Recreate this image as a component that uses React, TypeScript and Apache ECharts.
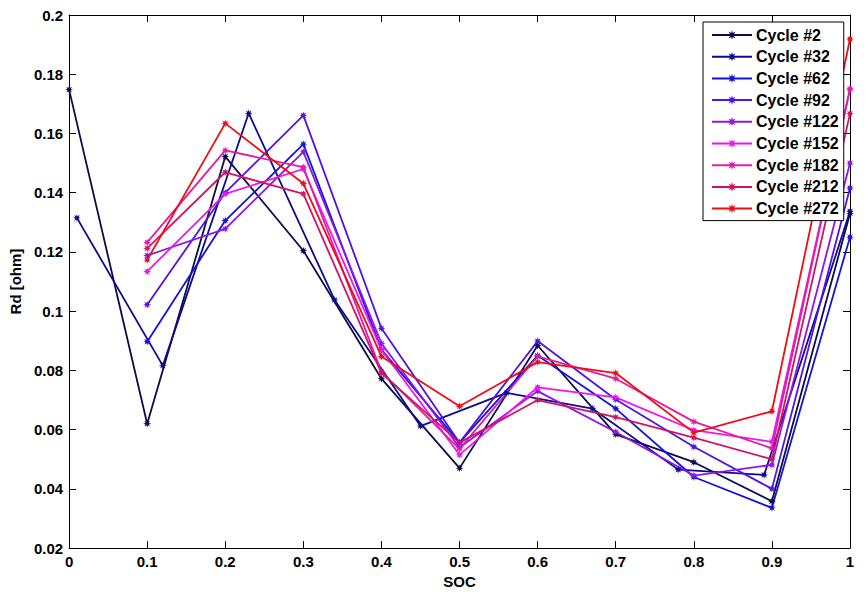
import React, { useEffect, useRef } from "react";
import * as echarts from "echarts";

const seriesNames = [
  "Cycle #2",
  "Cycle #32",
  "Cycle #62",
  "Cycle #92",
  "Cycle #122",
  "Cycle #152",
  "Cycle #182",
  "Cycle #212",
  "Cycle #272",
];
const seriesColors = [
  "#0c0c4c",
  "#0c0c8c",
  "#1414d8",
  "#5014e0",
  "#9014e8",
  "#f014f0",
  "#e01ca8",
  "#d01462",
  "#f00c14",
];

const xCycle2 = [0, 0.1, 0.2, 0.3, 0.4, 0.5, 0.6, 0.7, 0.8, 0.9, 1.0];
const yCycle2 = [0.1748, 0.062, 0.1522, 0.1204, 0.0772, 0.047, 0.0884, 0.0584, 0.049, 0.0358, 0.133];

const xCycle32 = [0.01, 0.12, 0.23, 0.34, 0.45, 0.56, 0.67, 0.78, 0.89, 1.0];
const yCycle32 = [0.1315, 0.0816, 0.1668, 0.1038, 0.0612, 0.0724, 0.0671, 0.0465, 0.0447, 0.1337];

const xSoc = [0.1, 0.2, 0.3, 0.4, 0.5, 0.6, 0.7, 0.8, 0.9, 1.0];
const yCycle62 = [0.0897, 0.1306, 0.1564, 0.087, 0.0556, 0.085, 0.0671, 0.044, 0.0336, 0.125];
const yCycle92 = [0.1022, 0.14, 0.1661, 0.0942, 0.0556, 0.0899, 0.0702, 0.0542, 0.04, 0.1416];
const yCycle122 = [0.1188, 0.1278, 0.1538, 0.0891, 0.054, 0.073, 0.0592, 0.0445, 0.0481, 0.15];
const yCycle152 = [0.1134, 0.1396, 0.148, 0.0869, 0.0515, 0.0743, 0.0709, 0.0598, 0.0559, 0.175];
const yCycle182 = [0.1232, 0.1543, 0.1486, 0.0795, 0.0535, 0.0847, 0.0772, 0.0627, 0.0537, 0.175];
const yCycle212 = [0.1212, 0.1469, 0.1396, 0.0791, 0.0556, 0.07, 0.0642, 0.0573, 0.05, 0.1667];
const yCycle272 = [0.1173, 0.1634, 0.1431, 0.0847, 0.0679, 0.0828, 0.0791, 0.059, 0.0662, 0.1919];

const seriesX = [xCycle2, xCycle32, xSoc, xSoc, xSoc, xSoc, xSoc, xSoc, xSoc];
const seriesY = [yCycle2, yCycle32, yCycle62, yCycle92, yCycle122, yCycle152, yCycle182, yCycle212, yCycle272];

function asteriskPath(): string {
  const pts: string[] = [];
  const n = 8;
  for (let i = 0; i < n * 2; i++) {
    const r = i % 2 === 0 ? 10 : 4.5;
    const a = (Math.PI * i) / n - Math.PI / 2;
    const px = (10 + r * Math.cos(a)).toFixed(2);
    const py = (10 + r * Math.sin(a)).toFixed(2);
    pts.push((i === 0 ? "M" : "L") + px + " " + py);
  }
  return "path://" + pts.join(" ") + " Z";
}

const FONT = "'Liberation Sans', Arial, sans-serif";

export default function App() {
  const ref = useRef<HTMLDivElement>(null);
  useEffect(() => {
    if (!ref.current) return;
    const chart = echarts.init(ref.current, undefined, { renderer: "svg" });
    const sym = asteriskPath();
    const fmt = (v: number) => String(+Number(v).toFixed(2));
    const tickCommon = { inside: true, length: 7, lineStyle: { color: "#000", width: 1 } };
    const axisLineCommon = { show: true, onZero: false, lineStyle: { color: "#000", width: 1 } };
    chart.setOption({
      animation: false,
      backgroundColor: "#fff",
      grid: { left: 69, right: 16, top: 15, bottom: 42 },
      xAxis: [
        {
          type: "value",
          min: 0,
          max: 1,
          interval: 0.1,
          name: "SOC",
          nameLocation: "middle",
          nameGap: 24,
          nameTextStyle: { color: "#000", fontSize: 15, fontWeight: "bold", fontFamily: FONT },
          axisLine: axisLineCommon,
          axisTick: tickCommon,
          splitLine: { show: false },
          axisLabel: { color: "#000", fontSize: 15, fontWeight: "bold", fontFamily: FONT, margin: 6, formatter: fmt },
        },
        {
          type: "value",
          position: "top",
          min: 0,
          max: 1,
          interval: 0.1,
          axisLine: axisLineCommon,
          axisTick: tickCommon,
          splitLine: { show: false },
          axisLabel: { show: false },
        },
      ],
      yAxis: [
        {
          type: "value",
          min: 0.02,
          max: 0.2,
          interval: 0.02,
          name: "Rd [ohm]",
          nameLocation: "middle",
          nameGap: 44,
          nameTextStyle: { color: "#000", fontSize: 15, fontWeight: "bold", fontFamily: FONT },
          axisLine: axisLineCommon,
          axisTick: tickCommon,
          splitLine: { show: false },
          axisLabel: { color: "#000", fontSize: 15, fontWeight: "bold", fontFamily: FONT, margin: 6, formatter: fmt },
        },
        {
          type: "value",
          position: "right",
          min: 0.02,
          max: 0.2,
          interval: 0.02,
          axisLine: axisLineCommon,
          axisTick: tickCommon,
          splitLine: { show: false },
          axisLabel: { show: false },
        },
      ],
      legend: {
        orient: "vertical",
        left: 703,
        top: 22,
        padding: [5, 5, 4, 8],
        itemGap: 5.7,
        itemWidth: 40,
        itemHeight: 12,
        backgroundColor: "#fff",
        borderColor: "#000",
        borderWidth: 1,
        borderRadius: 0,
        textStyle: { color: "#000", fontSize: 16, fontWeight: "bold", fontFamily: FONT, lineHeight: 16, padding: [0, 0, 0, -1] },
        data: seriesNames,
      },
      series: seriesNames.map((name, i) => ({
        name,
        type: "line",
        xAxisIndex: 0,
        yAxisIndex: 0,
        data: seriesX[i].map((x, j) => [x, seriesY[i][j]]),
        symbol: sym,
        symbolSize: 8,
        showAllSymbol: true,
        clip: false,
        color: seriesColors[i],
        lineStyle: { color: seriesColors[i], width: 1.8 },
        itemStyle: { color: seriesColors[i] },
        emphasis: { disabled: true },
      })),
    });
    return () => chart.dispose();
  }, []);
  return (
    <div
      ref={ref}
      style={{ position: "fixed", left: 0, top: 0, width: 866, height: 594 }}
    />
  );
}
